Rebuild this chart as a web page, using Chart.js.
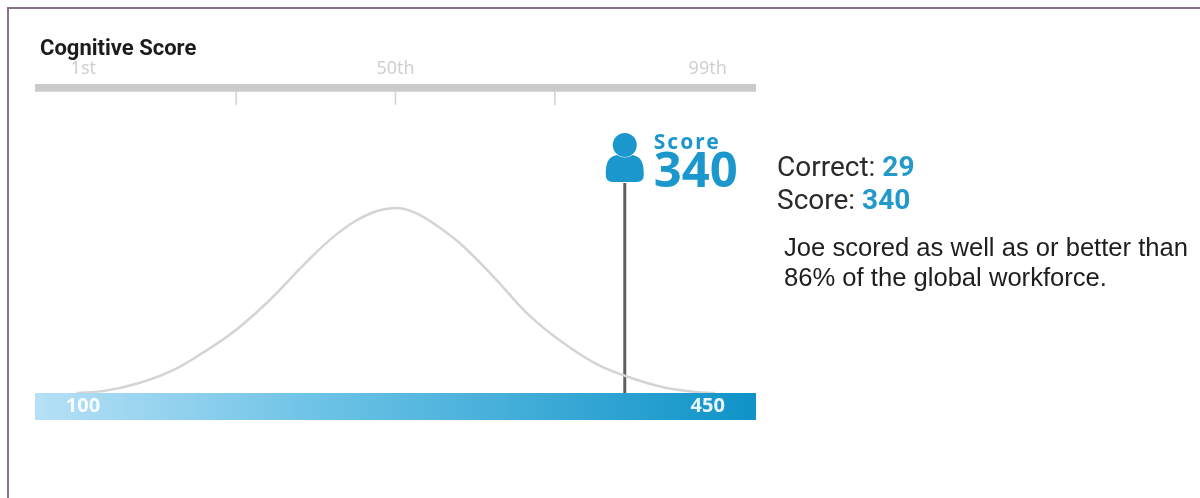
<!DOCTYPE html>
<html>
<head>
<meta charset="utf-8">
<script src="https://cdn.jsdelivr.net/npm/chart.js@4/dist/chart.umd.min.js"></script>
<style>
    html, body { margin: 0; padding: 0; background: #fff; }
    body { width: 1200px; height: 498px; overflow: hidden; position: relative; }
    #frame { position: absolute; left: 7px; top: 7px; right: 0; bottom: 0; border-left: 2px solid #8a6f8c; border-top: 2px solid #8a6f8c; }
    #scoreChart { position: absolute; left: 0; top: 0; }
    .txt { position: absolute; white-space: nowrap; }
    #title { left: 40px; top: 35px; font: 700 22px Roboto, sans-serif; color: #1c1c1c; }
    .side { font: 400 28px Roboto, sans-serif; color: #2a2a2a; }
    .side b { font-weight: 700; color: #2399cb; }
    .note { font: 400 25.6px "Liberation Sans", Arial, sans-serif; color: #1e1e1e; }
</style>
</head>
<body>
<div id="frame"></div>
<canvas id="scoreChart" width="1200" height="498"></canvas>
<div class="txt" id="title">Cognitive Score</div>
<div class="txt side" style="left:777px;top:150px">Correct: <b>29</b></div>
<div class="txt side" style="left:777px;top:183px">Score: <b>340</b></div>
<div class="txt note" style="left:784px;top:233px">Joe scored as well as or better than</div>
<div class="txt note" style="left:784px;top:263px">86% of the global workforce.</div>
<script>
// Position along the band is in percent of its width (the band is not linear in score)
const curvePositions = [5.8, 9.4, 14.1, 18.7, 23.3, 28, 32.6, 37.2, 41.9, 46.5, 50.1, 52.7, 55.9, 59.2, 63.8, 68.4, 73.1, 77.7, 81.8, 87, 91.5, 94.3];
const curveHeights = [0, 1, 5, 11.5, 21.8, 34.5, 50.4, 69, 86, 97, 100, 97.5, 90, 80, 62, 42.5, 27.5, 16, 9.3, 3.2, 0.6, 0];

const percentileLabels = ['1st', '50th', '99th'];
const percentilePositions = [6.7, 50, 93.3];
const tickPositions = [27.9, 50, 72.1];

const scoreLabels = ['100', '450'];
const scoreLabelPositions = [6.66, 93.3];
const bandEnds = [0, 100];

const markerPosition = 81.8;
const markerTop = 113.5;
const markerLabel = 'Score';
const markerValue = '340';

const axisLevel = 165;
const tickBottom = 155.7;
const bandFloor = -14.6;

const BLUE = '#1b97cd';

function toPoints(xs, ys) {
    return xs.map((x, i) => ({ x: x, y: ys[i] }));
}

// Three short ticks under the top bar, separated by gaps
const tickPoints = [];
tickPositions.forEach(x => {
    tickPoints.push({ x: x, y: axisLevel }, { x: x, y: tickBottom }, { x: x, y: null });
});

function bandGradient(context) {
    const area = context.chart.chartArea;
    if (!area) return '#5db8e0';
    const g = context.chart.ctx.createLinearGradient(area.left, 0, area.right, 0);
    g.addColorStop(0, '#b6e0f6');
    g.addColorStop(0.4, '#6cc2e6');
    g.addColorStop(1, '#0f93c8');
    return g;
}

// Text labels and the person icon, placed through the chart's own scales
const annotations = {
    id: 'annotations',
    afterDatasetsDraw(chart) {
        const { ctx, scales: { x, y } } = chart;
        ctx.save();
        ctx.textBaseline = 'middle';
        ctx.textAlign = 'center';

        ctx.font = '400 18px "Noto Sans", sans-serif';
        ctx.fillStyle = '#cfcfcf';
        percentileLabels.forEach((label, i) => {
            ctx.fillText(label, x.getPixelForValue(percentilePositions[i]), 69);
        });

        ctx.font = '700 20px "Noto Sans", sans-serif';
        ctx.fillStyle = 'rgba(255,255,255,0.9)';
        scoreLabels.forEach((label, i) => {
            ctx.fillText(label, x.getPixelForValue(scoreLabelPositions[i]), 406);
        });

        // Person icon sits on top of the marker line
        const cx = x.getPixelForValue(markerPosition);
        const base = y.getPixelForValue(markerTop);
        ctx.fillStyle = BLUE;
        ctx.beginPath();
        ctx.arc(cx, base - 38, 12, 0, Math.PI * 2);
        ctx.fill();
        ctx.beginPath();
        ctx.moveTo(cx - 19, base - 8);
        ctx.bezierCurveTo(cx - 19, base - 20, cx - 17, base - 26, cx - 8, base - 28);
        ctx.quadraticCurveTo(cx, base - 23, cx + 8, base - 28);
        ctx.bezierCurveTo(cx + 17, base - 26, cx + 19, base - 20, cx + 19, base - 8);
        ctx.quadraticCurveTo(cx + 19, base - 1, cx + 12, base - 1);
        ctx.lineTo(cx - 12, base - 1);
        ctx.quadraticCurveTo(cx - 19, base - 1, cx - 19, base - 8);
        ctx.closePath();
        ctx.fill();

        ctx.textAlign = 'left';
        ctx.textBaseline = 'alphabetic';
        ctx.font = '700 21px "Noto Sans", sans-serif';
        ctx.letterSpacing = '2px';
        ctx.fillText(markerLabel, cx + 29, base - 34);
        ctx.font = '700 49px "Noto Sans", sans-serif';
        ctx.letterSpacing = '0px';
        ctx.fillText(markerValue, cx + 29, base + 4);
        ctx.restore();
    }
};

new Chart(document.getElementById('scoreChart'), {
    type: 'line',
    data: {
        datasets: [
            {
                label: 'Score band',
                data: toPoints(bandEnds, [0, 0]),
                borderWidth: 0,
                pointRadius: 0,
                fill: { value: bandFloor },
                backgroundColor: bandGradient
            },
            {
                label: 'Distribution',
                data: toPoints(curvePositions, curveHeights),
                borderColor: '#d6d3d3',
                borderWidth: 2.5,
                pointRadius: 0,
                tension: 0.4
            },
            {
                label: 'Percentile axis',
                data: toPoints(bandEnds, [axisLevel, axisLevel]),
                borderColor: '#cbcbcb',
                borderWidth: 8,
                pointRadius: 0
            },
            {
                label: 'Percentile ticks',
                data: tickPoints,
                borderColor: '#d2d2d2',
                borderWidth: 1.5,
                pointRadius: 0,
                spanGaps: false
            },
            {
                label: 'Marker',
                data: toPoints([markerPosition, markerPosition], [0, markerTop]),
                borderColor: '#5e5e5e',
                borderWidth: 3,
                pointRadius: 0
            }
        ]
    },
    options: {
        responsive: false,
        animation: false,
        layout: { padding: { left: 35, right: 444, top: 84, bottom: 78 } },
        plugins: { legend: { display: false }, tooltip: { enabled: false } },
        scales: {
            x: { type: 'linear', display: false, min: 0, max: 100 },
            y: { display: false, min: bandFloor, max: 167 }
        }
    },
    plugins: [annotations]
});
</script>
</body>
</html>
